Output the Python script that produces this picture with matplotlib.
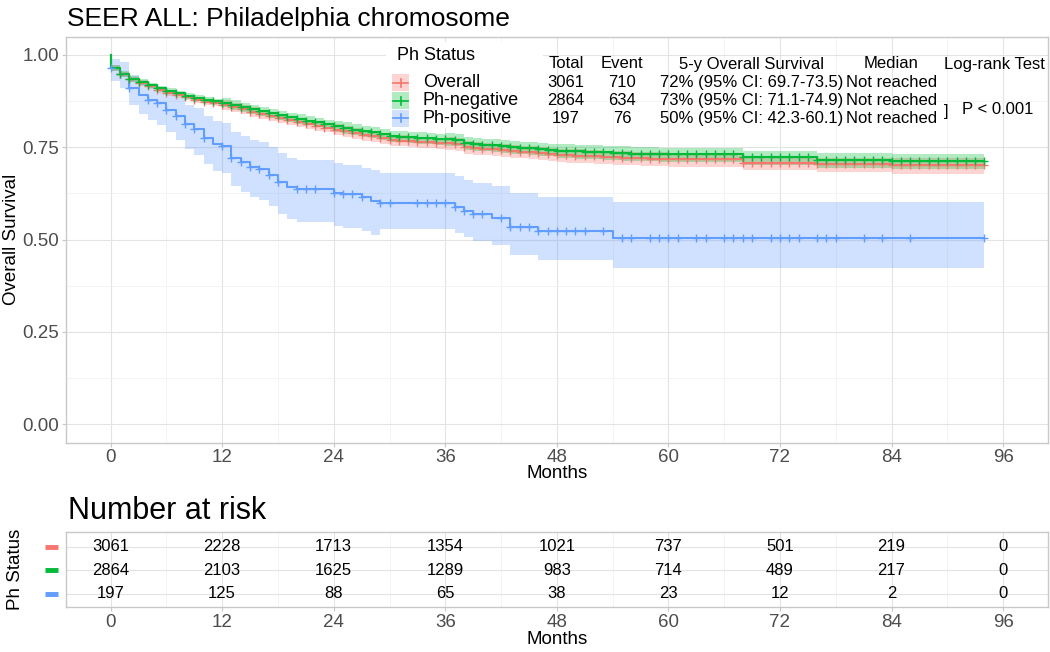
import numpy as np
import matplotlib
matplotlib.use("Agg")
import matplotlib.pyplot as plt
import matplotlib.transforms as mtransforms
from matplotlib.patches import Rectangle
from matplotlib.lines import Line2D
from matplotlib.ticker import MultipleLocator

plt.rcParams['font.family'] = ['Liberation Sans', 'DejaVu Sans']

# ---------------- data ----------------
groups = ["Overall", "Ph-negative", "Ph-positive"]
colors = ["#F8766D", "#00BA38", "#619CFF"]
end_month = 94

overall_months = list(range(0, 61)) + [68, 76, 84]
overall_surv = [.965, .948, .934, .924, .915, .906, .898, .891, .885, .879,
                .873, .869, .865, .859, .853, .846, .840, .834, .828, .823,
                .818, .813, .808, .803, .798, .793, .788, .784, .780, .775,
                .770, .768, .767, .765, .764, .762, .761, .759, .750, .748,
                .746, .744, .742, .740, .738, .736, .734, .731, .729, .728,
                .727, .726, .725, .724, .723, .722, .721, .720, .719, .719,
                .718, .708, .704, .701]

phneg_months = list(range(0, 61)) + [68, 76, 84]
phneg_surv = [.965, .949, .936, .927, .918, .910, .903, .896, .890, .884,
              .879, .875, .871, .865, .859, .853, .848, .842, .837, .832,
              .827, .822, .818, .813, .808, .803, .798, .794, .790, .786,
              .781, .779, .778, .776, .775, .773, .772, .770, .761, .759,
              .757, .755, .753, .751, .749, .747, .745, .743, .741, .740,
              .739, .738, .737, .736, .735, .734, .733, .732, .732, .731,
              .731, .723, .716, .713]

# CI distance below / above the curve, per 12-month block
overall_ci_below = [0.008, 0.013, 0.016, 0.018, 0.020, 0.021, 0.022, 0.023]
overall_ci_above = [0.007, 0.012, 0.014, 0.016, 0.017, 0.017, 0.018, 0.019]
phneg_ci_below = [0.008, 0.013, 0.016, 0.018, 0.020, 0.020, 0.021, 0.022]
phneg_ci_above = [0.007, 0.012, 0.014, 0.016, 0.018, 0.018, 0.019, 0.020]

phpos_months = [0, 1, 2, 3, 4, 5, 6, 7, 8, 9, 10, 11, 12, 13, 14, 15, 16, 17,
                18, 19, 20, 24, 25, 27, 28, 29, 37, 38, 39, 41, 43, 46, 54]
phpos_surv = [.965, .948, .911, .891, .878, .869, .851, .835, .812, .799,
              .776, .758, .752, .722, .710, .697, .690, .675, .657, .643,
              .637, .627, .623, .614, .605, .598, .589, .578, .568, .557,
              .535, .523, .505]
phpos_lower = [.930, .910, .865, .840, .825, .810, .790, .770, .745, .730,
               .705, .685, .680, .645, .630, .615, .607, .590, .570, .555,
               .548, .537, .532, .522, .512, .528, .517, .506, .496, .485,
               .458, .444, .424]
phpos_upper = [.990, .980, .945, .930, .920, .910, .900, .885, .865, .855,
               .835, .820, .815, .790, .780, .770, .763, .750, .735, .720,
               .715, .707, .703, .695, .688, .680, .672, .662, .652, .645,
               .625, .614, .601]

censor_overall = list(range(1, 95))
censor_phneg = list(range(1, 95))
censor_phpos = [0, 1, 2, 4, 5, 6, 7, 8, 9, 10, 12, 13, 14, 15, 16, 17, 18,
                20, 21, 22, 24, 25, 26, 27, 29, 30, 33, 34, 35, 36, 37, 38,
                39, 40, 42, 43, 44, 45, 46, 47, 48, 49, 50, 51, 53, 55, 56,
                58, 59, 60, 61, 63, 64, 66, 67, 68, 69, 71, 72, 73, 74, 76,
                77, 78, 81, 83, 86, 94]

risk_times = [0, 12, 24, 36, 48, 60, 72, 84, 96]
risk_overall = [3061, 2228, 1713, 1354, 1021, 737, 501, 219, 0]
risk_phneg = [2864, 2103, 1625, 1289, 983, 714, 489, 217, 0]
risk_phpos = [197, 125, 88, 65, 38, 23, 12, 2, 0]

table_total = ["3061", "2864", "197"]
table_event = ["710", "634", "76"]
table_surv5 = ["72% (95% CI: 69.7-73.5)", "73% (95% CI: 71.1-74.9)",
               "50% (95% CI: 42.3-60.1)"]
table_median = ["Not reached", "Not reached", "Not reached"]
pvalue_text = "P < 0.001"

# ---------------- figure ----------------
W, H = 1050, 652
fig = plt.figure(figsize=(W / 100, H / 100), dpi=100)


def fx(px):
    return px / W


def fy(py):
    return 1 - py / H


ax = fig.add_axes([fx(66), fy(442.5), fx(1047.7) - fx(66), fy(36.5) - fy(442.5)])
axr = fig.add_axes([fx(66), fy(606.7), fx(1047.7) - fx(66), fy(531.7) - fy(606.7)])

grid_major = "#E3E3E3"
grid_minor = "#F0F0F0"
border = "#C8C8C8"
tickcol = "#4D4D4D"

for a in (ax, axr):
    a.set_facecolor("white")
    for s in a.spines.values():
        s.set_color(border)
        s.set_linewidth(1.0)
    a.set_xlim(-4.8, 100.8)
    a.xaxis.set_major_locator(MultipleLocator(12))
    a.xaxis.set_minor_locator(MultipleLocator(6))
    a.grid(which="major", color=grid_major, lw=0.8, zorder=0)
    a.grid(which="minor", color=grid_minor, lw=0.5, zorder=0)
    a.set_axisbelow(True)
    a.tick_params(axis="both", which="major", color=border, length=3,
                  labelsize=13.5, labelcolor=tickcol, pad=2)
    a.tick_params(axis="both", which="minor", length=0)

ax.set_ylim(-0.05, 1.05)
ax.set_yticks([0, 0.25, 0.5, 0.75, 1.0])
ax.set_yticklabels(["0.00", "0.25", "0.50", "0.75", "1.00"])
ax.yaxis.set_minor_locator(MultipleLocator(0.125))
ax.set_xticks(risk_times)


def surv_at(months, surv, t):
    idx = np.searchsorted(np.array(months), np.array(t), side="right") - 1
    return np.array(surv)[idx]


def draw_group(months, surv, lower, upper, censor, color):
    x = np.array([0] + list(months) + [end_month], dtype=float)
    y = np.array([1.0] + list(surv) + [surv[-1]])
    lo = np.array([1.0] + list(lower) + [lower[-1]])
    hi = np.array([1.0] + list(upper) + [upper[-1]])
    ax.fill_between(x, lo, hi, step="post", color=color, alpha=0.3, lw=0, zorder=2)
    ax.plot(x, y, drawstyle="steps-post", color=color, lw=1.5, zorder=3)
    cy = surv_at(months, surv, censor)
    ax.plot(censor, cy, ls="none", marker="+", ms=6, mew=1.0, color=color, zorder=4)


def block_ci(months, surv, below, above):
    blk = [min(m // 12, len(below) - 1) for m in months]
    lo = [s - below[b] for s, b in zip(surv, blk)]
    hi = [s + above[b] for s, b in zip(surv, blk)]
    return lo, hi


lo_o, hi_o = block_ci(overall_months, overall_surv, overall_ci_below, overall_ci_above)
lo_n, hi_n = block_ci(phneg_months, phneg_surv, phneg_ci_below, phneg_ci_above)

draw_group(phpos_months, phpos_surv, phpos_lower, phpos_upper, censor_phpos, colors[2])
draw_group(overall_months, overall_surv, lo_o, hi_o, censor_overall, colors[0])
draw_group(phneg_months, phneg_surv, lo_n, hi_n, censor_phneg, colors[1])

# legend (white box inside panel)
fig.patches.append(Rectangle((fx(386), fy(128)), fx(543) - fx(386), fy(42) - fy(128),
                             transform=fig.transFigure, facecolor="white",
                             edgecolor="none", zorder=5))
fig.text(fx(397), fy(56), "Ph Status", fontsize=13, va="center", ha="left", zorder=6)
row_y = [82.5, 100.5, 118.3]
for i, g in enumerate(groups):
    fig.patches.append(Rectangle((fx(392), fy(row_y[i] + 8.5)), fx(17), 17 / H,
                                 transform=fig.transFigure, facecolor=colors[i],
                                 alpha=0.3, edgecolor="none", zorder=6))
    fig.lines.append(Line2D([fx(393), fx(408)], [fy(row_y[i])] * 2, transform=fig.transFigure,
                            color=colors[i], lw=1.2, zorder=7))
    fig.lines.append(Line2D([fx(400.5)] * 2, [fy(row_y[i] - 4), fy(row_y[i] + 4)],
                            transform=fig.transFigure, color=colors[i], lw=1.2, zorder=7))
    fig.text(fx(423), fy(row_y[i]), g, fontsize=13, va="center", ha="left", zorder=6)
    fig.text(fx(566), fy(row_y[i]), table_total[i], fontsize=12, va="center", ha="center")
    fig.text(fx(622), fy(row_y[i]), table_event[i], fontsize=12, va="center", ha="center")
    fig.text(fx(660), fy(row_y[i]), table_surv5[i], fontsize=12, va="center", ha="left")
    fig.text(fx(846), fy(row_y[i]), table_median[i], fontsize=12, va="center", ha="left")

hdr_y = 64
fig.text(fx(566), fy(hdr_y), "Total", fontsize=12, va="center", ha="center")
fig.text(fx(621.5), fy(hdr_y), "Event", fontsize=12, va="center", ha="center")
fig.text(fx(751.5), fy(hdr_y), "5-y Overall Survival", fontsize=12, va="center", ha="center")
fig.text(fx(891), fy(hdr_y), "Median", fontsize=12, va="center", ha="center")
fig.text(fx(994), fy(hdr_y), "Log-rank Test", fontsize=12, va="center", ha="center")
fig.text(fx(944), fy(111.5), "]", fontsize=12, va="center", ha="left")
fig.text(fx(961.5), fy(109.5), pvalue_text, fontsize=12, va="center", ha="left")

# titles and labels
fig.text(fx(67), fy(19), "SEER ALL: Philadelphia chromosome", fontsize=19,
         va="center", ha="left")
fig.text(fx(12), fy(239.5), "Overall Survival", fontsize=13.5, rotation=90,
         va="center", ha="center")
fig.text(fx(557), fy(474), "Months", fontsize=13.5, va="center", ha="center")

# ---------------- risk table ----------------
axr.set_ylim(3.55, 0.37)
axr.set_yticks([1, 2, 3])
axr.set_yticklabels([])
axr.tick_params(axis="y", length=0)
axr.yaxis.set_minor_locator(MultipleLocator(10))
axr.set_xticks(risk_times)
risk_rows = [risk_overall, risk_phneg, risk_phpos]
dash_tr = mtransforms.blended_transform_factory(fig.transFigure, axr.transData)
for i, row in enumerate(risk_rows):
    for t, n in zip(risk_times, row):
        axr.text(t, i + 1, str(n), fontsize=12, ha="center", va="center", color="black")
    fig.lines.append(Line2D([fx(45), fx(58)], [i + 1, i + 1], transform=dash_tr,
                            color=colors[i], lw=3.5, solid_capstyle="butt"))

fig.text(fx(68), fy(511), "Number at risk", fontsize=22, va="center", ha="left")
fig.text(fx(15), fy(569), "Ph Status", fontsize=13.5, rotation=90, va="center", ha="center")
fig.text(fx(557), fy(640), "Months", fontsize=13.5, va="center", ha="center")

fig.savefig("out.png", dpi=100, facecolor="white")
